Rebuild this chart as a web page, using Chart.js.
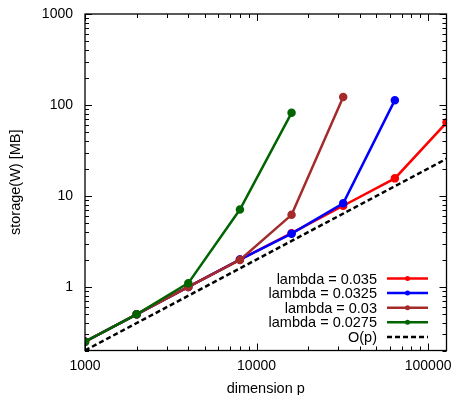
<!DOCTYPE html>
<html>
<head>
<meta charset="utf-8">
<script src="https://cdn.jsdelivr.net/npm/chart.js@4"></script>
<style>
  html, body { margin: 0; padding: 0; background: #fff; }
  #wrap { width: 456px; height: 395px; }
</style>
</head>
<body>
<div id="wrap"><canvas id="chart" width="456" height="395"></canvas></div>
<script>
// dimension p (x) and storage in MB (y)
const dims = [1000, 2000, 4000, 8000, 16000, 32000, 64000, 128000];
const storage035 = [0.25, 0.5, 1.0, 2.0, 3.9, 7.8, 15.6, 64];
const storage0325 = [0.25, 0.5, 1.0, 2.0, 3.85, 8.3, 113];
const storage03 = [0.25, 0.5, 1.0, 1.98, 6.2, 122];
const storage0275 = [0.25, 0.5, 1.1, 7.1, 82];
const orderDims = [1000, 128000];
const orderStorage = [0.2, 25.6];

const xTicks = [1000, 10000, 100000];
const yTicks = [1, 10, 100, 1000];

const FONT = 'Liberation Sans, Arial, sans-serif';

function pts(xs, ys) {
    return ys.map((y, i) => ({ x: xs[i], y: y }));
}

function series(label, ys, color, order) {
    return {
        label: label,
        data: pts(dims, ys),
        borderColor: color,
        backgroundColor: color,
        borderWidth: 2.5,
        pointRadius: 3,
        pointHoverRadius: 3,
        order: order
    };
}

const datasets = [
    series('lambda = 0.035', storage035, '#ff0000', 4),
    series('lambda = 0.0325', storage0325, '#0000ff', 3),
    series('lambda = 0.03', storage03, '#a52a2a', 2),
    series('lambda = 0.0275', storage0275, '#006400', 1),
    {
        label: 'O(p)',
        data: pts(orderDims, orderStorage),
        borderColor: '#000',
        borderWidth: 2.5,
        borderDash: [5, 3],
        pointRadius: 0,
        order: 0
    }
];

// frame with inward ticks on all four sides, like gnuplot
const framePlugin = {
    id: 'frame',
    afterDatasetsDraw(chart) {
        const ctx = chart.ctx;
        const a = chart.chartArea;
        const xs = chart.scales.x, ys = chart.scales.y;
        ctx.save();
        ctx.strokeStyle = '#000';
        ctx.lineWidth = 1;
        ctx.beginPath();
        for (let e = 3; e <= 5; e++) {
            for (let k = 1; k <= 9; k++) {
                const v = k * Math.pow(10, e);
                if (v < xs.min || v > xs.max) continue;
                const px = Math.round(xs.getPixelForValue(v)) + 0.5;
                const len = k === 1 ? 7 : 4;
                ctx.moveTo(px, a.bottom); ctx.lineTo(px, a.bottom - len);
                ctx.moveTo(px, a.top); ctx.lineTo(px, a.top + len);
            }
        }
        for (let e = -1; e <= 3; e++) {
            for (let k = 1; k <= 9; k++) {
                const v = k * Math.pow(10, e);
                if (v < ys.min - 1e-9 || v > ys.max + 1e-9) continue;
                const py = Math.round(ys.getPixelForValue(v)) + 0.5;
                const len = k === 1 ? 7 : 4;
                ctx.moveTo(a.left, py); ctx.lineTo(a.left + len, py);
                ctx.moveTo(a.right, py); ctx.lineTo(a.right - len, py);
            }
        }
        ctx.stroke();
        ctx.lineWidth = 1.3;
        ctx.strokeRect(a.left, a.top, a.right - a.left, a.bottom - a.top);
        ctx.restore();
    }
};

// key in the lower right, text on the left and sample on the right
const keyPlugin = {
    id: 'key',
    afterDraw(chart) {
        const ctx = chart.ctx;
        const textRight = 377;
        const x0 = 387, x1 = 428;
        let y = 278.5;
        ctx.save();
        ctx.font = '14.5px ' + FONT;
        ctx.textAlign = 'right';
        ctx.textBaseline = 'middle';
        chart.data.datasets.forEach(ds => {
            ctx.fillStyle = '#000';
            ctx.fillText(ds.label, textRight, y + 1);
            ctx.strokeStyle = ds.borderColor;
            ctx.lineWidth = ds.borderWidth;
            ctx.setLineDash(ds.borderDash || []);
            ctx.beginPath();
            ctx.moveTo(x0, y); ctx.lineTo(x1, y);
            ctx.stroke();
            ctx.setLineDash([]);
            if (ds.pointRadius) {
                ctx.fillStyle = ds.borderColor;
                ctx.beginPath();
                ctx.arc((x0 + x1) / 2, y, 2.5, 0, Math.PI * 2);
                ctx.fill();
            }
            y += 14.6;
        });
        ctx.restore();
    }
};

const config = {
    type: 'line',
    data: { datasets: datasets },
    options: {
        responsive: false,
        animation: false,
        events: [],
        layout: { padding: { top: 14, right: 9.5, left: 0, bottom: 0 } },
        plugins: {
            legend: { display: false },
            tooltip: { enabled: false }
        },
        scales: {
            x: {
                type: 'logarithmic',
                min: 1000,
                max: 128000,
                grid: { display: false, drawTicks: false },
                border: { display: false },
                afterBuildTicks: s => { s.ticks = xTicks.map(v => ({ value: v })); },
                afterFit: s => {
                    s.height = 44.5;
                    s.paddingLeft = 0;
                    s.paddingRight = 0;
                },
                ticks: {
                    color: '#000',
                    padding: 7,
                    maxRotation: 0,
                    font: { family: FONT, size: 14 },
                    callback: v => String(v)
                },
                title: {
                    display: true,
                    text: 'dimension p',
                    color: '#000',
                    font: { family: FONT, size: 14.5 },
                    padding: { top: 0, bottom: -3 }
                }
            },
            y: {
                type: 'logarithmic',
                min: 0.2,
                max: 1000,
                grid: { display: false, drawTicks: false },
                border: { display: false },
                afterBuildTicks: s => { s.ticks = yTicks.map(v => ({ value: v })); },
                afterFit: s => {
                    s.width = 85;
                    s.paddingTop = 0;
                    s.paddingBottom = 0;
                },
                ticks: {
                    color: '#000',
                    padding: 12,
                    font: { family: FONT, size: 14 },
                    callback: v => String(v)
                },
                title: {
                    display: true,
                    text: 'storage(W) [MB]',
                    color: '#000',
                    font: { family: FONT, size: 14.5 },
                    padding: { top: 7, bottom: 0 }
                }
            }
        }
    },
    plugins: [framePlugin, keyPlugin]
};

const myChart = new Chart(document.getElementById('chart'), config);
</script>
</body>
</html>
